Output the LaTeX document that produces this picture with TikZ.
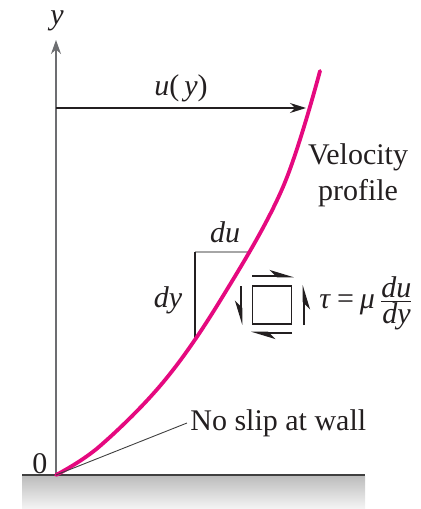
\documentclass[tikz,border=0pt]{standalone}
\usepackage{fontspec}
\setmainfont{Liberation Serif}
\newfontfamily\tms{Liberation Serif}
\usetikzlibrary{arrows.meta}
\definecolor{prof}{HTML}{E5097F}
\definecolor{ink}{HTML}{231F20}
\definecolor{axisgray}{HTML}{6D6E71}
\begin{document}
\begin{tikzpicture}[x=0.5pt,y=-0.5pt,
  lbl/.style={inner sep=0pt,text=ink,font=\tms\fontsize{15}{16}\selectfont},
  shear/.style={line width=1.3pt,ink,-{Stealth[harpoon,length=10pt,width=6pt,inset=3pt]}},
  shearsw/.style={line width=1.3pt,ink,-{Stealth[harpoon,swap,length=10pt,width=6pt,inset=3pt]}}]
\useasboundingbox (0,0) rectangle (421,509);
% ground
\shade[top color=black!26, bottom color=black!4] (22,476) rectangle (365,509);
\coordinate (gl) at (22,475);
\coordinate (gr) at (365,475);
\draw[line width=1.2pt,black!75] (gl) -- (gr);
% axis
\coordinate (O) at (56,475);
\coordinate (ytop) at (56,40);
\draw[line width=0.7pt,axisgray,-{Stealth[length=7pt,width=5pt]}] (O) -- (ytop);
\node[lbl] (ylab) at (57,21) {\textit{y}};
\node[lbl] (zero) at (40,464) {0};
% u(y)
\coordinate (ua) at (56,108);
\coordinate (ub) at (306,108);
\draw[line width=0.6pt,ink,-{Stealth[length=8pt,width=5pt]}] (ua) -- (ub);
\node[lbl] (ulab) at (181,88) {\textit{u}(\,\textit{y})};
% du dy triangle
\coordinate (ta) at (195,252);
\coordinate (tb) at (249,252);
\coordinate (tc) at (195,340);
\draw[line width=1pt,black!35] (ta) -- (tb);
\draw[line width=0.6pt,ink] (ta) -- (tc);
\node[lbl] (dulab) at (225,232) {\textit{du}};
\node[lbl] (dylab) at (168,300) {\textit{dy}};
% profile
\draw[line width=1.9pt,prof,line cap=round] plot[smooth,tension=0.6] coordinates
 {(56,475) (100,446) (165,380) (223,296) (283,187) (320,71)};
% leader
\coordinate (lead) at (187,423);
\draw[line width=0.45pt,black!75] (O) -- (lead);
\node[lbl,anchor=west] (noslip) at (190,423) {No slip at wall};
\node[lbl,align=center] (velo) at (358,175) {Velocity\\[2pt]profile};
% element
\node[draw=ink,line width=0.8pt,minimum width=19.5pt,minimum height=19pt,inner sep=0pt] (sq) at (272,305) {};
\coordinate (t1) at (252,276); \coordinate (t2) at (294,276);
\coordinate (b1) at (292,333); \coordinate (b2) at (251,333);
\coordinate (r1) at (304,325); \coordinate (r2) at (304,285);
\coordinate (l1) at (241,286); \coordinate (l2) at (241,325);
\draw[shear] (t1) -- (t2);
\draw[shear] (b1) -- (b2);
\draw[shearsw] (r1) -- (r2);
\draw[shearsw] (l1) -- (l2);
\node[lbl,anchor=west] (eq) at (319,303) {\textit{τ}\kern3pt=\kern3pt\textit{μ}\kern2pt$\frac{\mbox{\tms\fontsize{15}{16}\selectfont\textit{du}}}{\mbox{\tms\fontsize{15}{16}\selectfont\textit{dy}}}$};
\end{tikzpicture}
\end{document}
